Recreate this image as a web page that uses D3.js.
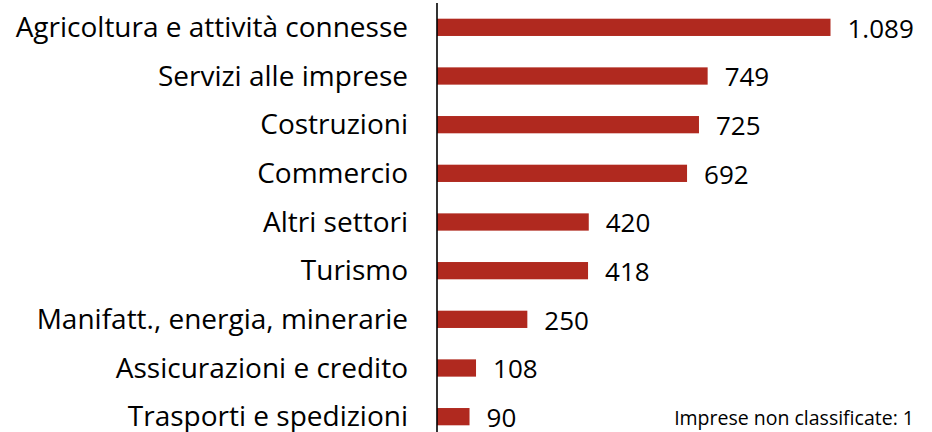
<!DOCTYPE html>
<html>
<head>
<meta charset="utf-8">
<script src="https://cdn.jsdelivr.net/npm/d3@7"></script>
<style>
  body { margin: 0; background: #fff; }
  text { font-family: "Open Sans", sans-serif; fill: #000; }
</style>
</head>
<body>
<div class="barchart"></div>
<script>
const categories = [
    "Agricoltura e attività connesse",
    "Servizi alle imprese",
    "Costruzioni",
    "Commercio",
    "Altri settori",
    "Turismo",
    "Manifatt., energia, minerarie",
    "Assicurazioni e credito",
    "Trasporti e spedizioni"
];
const values = [1089, 749, 725, 692, 420, 418, 250, 108, 90];
const valueLabels = ["1.089", "749", "725", "692", "420", "418", "250", "108", "90"];
const note = "Imprese non classificate: 1";

const width = 932, height = 432;
const axisX = 437;

const svg = d3.select('.barchart').append('svg')
    .attr('width', width)
    .attr('height', height);

let x = d3.scaleLinear()
    .domain([0, 1089])
    .range([axisX, 830.5]);

let y = d3.scaleBand()
    .domain(categories)
    .range([3, 441])
    .paddingInner(0.645)
    .paddingOuter(0.3225);

const data = categories.map((c, i) => ({ cat: c, value: values[i], label: valueLabels[i] }));

// bars
svg.selectAll('rect.bar')
    .data(data)
    .enter().append('rect')
    .attr('class', 'bar')
    .attr('x', x(0))
    .attr('y', d => y(d.cat))
    .attr('width', d => x(d.value) - x(0))
    .attr('height', y.bandwidth())
    .attr('fill', '#b0291f');

// category labels
svg.selectAll('text.cat')
    .data(data)
    .enter().append('text')
    .attr('class', 'cat')
    .attr('x', 408)
    .attr('y', d => y(d.cat) + y.bandwidth() / 2)
    .attr('dy', '0.35em')
    .attr('text-anchor', 'end')
    .style('font-size', '28px')
    .text(d => d.cat);

// value labels
svg.selectAll('text.val')
    .data(data)
    .enter().append('text')
    .attr('class', 'val')
    .attr('x', d => x(d.value) + 17)
    .attr('y', d => y(d.cat) + y.bandwidth() / 2)
    .attr('dy', '0.4em')
    .style('font-size', '26px')
    .text(d => d.label);

// vertical axis line
svg.append('line')
    .attr('x1', axisX).attr('x2', axisX)
    .attr('y1', 3).attr('y2', height)
    .attr('stroke', '#000')
    .attr('stroke-width', 1.6);

svg.append('text')
    .attr('x', 914)
    .attr('y', 425)
    .attr('text-anchor', 'end')
    .style('font-size', '19.5px')
    .text(note);
</script>
</body>
</html>
